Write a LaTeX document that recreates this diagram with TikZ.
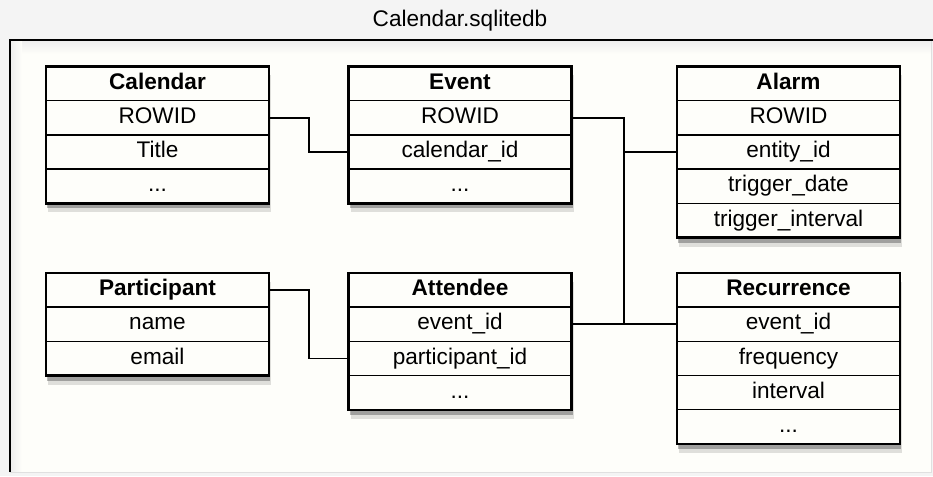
\documentclass[tikz,border=0pt]{standalone}
\usepackage{fontspec}
\setmainfont{Liberation Sans}
\usetikzlibrary{positioning,fit,backgrounds,shadows,calc}
\definecolor{paper}{HTML}{FEFEFA}
\definecolor{outside}{HTML}{F4F4F4}

\begin{document}
\begin{tikzpicture}[
  x=1pt, y=-1pt,
  fieldbox/.style={draw, line width=1.4pt, minimum width=223pt, minimum height=34.2pt,
    inner sep=0pt, outer sep=0pt, text height=16pt, text depth=4.5pt,
    font=\fontsize{22.6}{26}\selectfont},
  headbox/.style={fieldbox, font=\fontsize{22.6}{26}\selectfont\bfseries},
  tablebox/.style={draw, fill=paper, line width=2.4pt, inner sep=0pt, outer sep=0pt,
    drop shadow={shadow xshift=2pt, shadow yshift=-9pt, opacity=.12, fill=black},
    drop shadow={shadow xshift=1pt, shadow yshift=-5pt, opacity=.28, fill=black}},
  link/.style={line width=1.8pt}
]
\useasboundingbox (0,0) rectangle (933,476);

% frame of the database file
\begin{scope}[on background layer]
  \fill[outside] (0,0) rectangle (933,476);
  \fill[paper] (10,40) rectangle (931,472);
  \shade[top color=black!7, bottom color=paper] (10,40) rectangle (931,54);
  \shade[left color=black!7, right color=paper] (10,40) rectangle (22,472);
  \draw[black!12, line width=1pt] (10,472) -- (931,472) -- (931,40);
  \draw[line width=2pt] (10,472) -- (10,40) -- (933,40);
\end{scope}
\node[font=\fontsize{22.6}{26}\selectfont] (title) at (460,21) {Calendar.sqlitedb};

% Calendar
\node[headbox] (cal) at (157.5,83.6) {Calendar};
\node[fieldbox, below=0pt of cal] (cal-rowid) {ROWID};
\node[fieldbox, below=0pt of cal-rowid] (cal-title) {Title};
\node[fieldbox, below=0pt of cal-title] (cal-more) {...};

% Event
\node[headbox] (event) at (460,83.6) {Event};
\node[fieldbox, below=0pt of event] (ev-rowid) {ROWID};
\node[fieldbox, below=0pt of ev-rowid] (ev-calid) {calendar\_id};
\node[fieldbox, below=0pt of ev-calid] (ev-more) {...};

% Alarm
\node[headbox] (alarm) at (788.5,83.6) {Alarm};
\node[fieldbox, below=0pt of alarm] (al-rowid) {ROWID};
\node[fieldbox, below=0pt of al-rowid] (al-entity) {entity\_id};
\node[fieldbox, below=0pt of al-entity] (al-date) {trigger\_date};
\node[fieldbox, below=0pt of al-date] (al-interval) {trigger\_interval};

% Participant
\node[headbox] (part) at (157.5,290) {Participant};
\node[fieldbox, below=0pt of part] (pa-name) {name};
\node[fieldbox, below=0pt of pa-name] (pa-email) {email};

% Attendee
\node[headbox] (attendee) at (460,290) {Attendee};
\node[fieldbox, below=0pt of attendee] (at-event) {event\_id};
\node[fieldbox, below=0pt of at-event] (at-part) {participant\_id};
\node[fieldbox, below=0pt of at-part] (at-more) {...};

% Recurrence
\node[headbox] (recur) at (788.5,290) {Recurrence};
\node[fieldbox, below=0pt of recur] (re-event) {event\_id};
\node[fieldbox, below=0pt of re-event] (re-freq) {frequency};
\node[fieldbox, below=0pt of re-freq] (re-interval) {interval};
\node[fieldbox, below=0pt of re-interval] (re-more) {...};

% table outlines and shadows
\begin{scope}[on background layer]
  \node[tablebox, fit=(cal)(cal-more)] {};
  \node[tablebox, fit=(event)(ev-more)] {};
  \node[tablebox, fit=(alarm)(al-interval)] {};
  \node[tablebox, fit=(part)(pa-email)] {};
  \node[tablebox, fit=(attendee)(at-more)] {};
  \node[tablebox, fit=(recur)(re-more)] {};
\end{scope}

% relations
\coordinate (trunk) at ($(at-event.east)!.5!(re-event.west)$);
\draw[link] (cal-rowid.east) -| ($(cal-rowid.east)!.5!(ev-calid.west)$) |- (ev-calid.west);
\draw[link] (part.east) -| ($(part.east)!.5!(at-part.west)$) |- (at-part.west);
\draw[link] (ev-rowid.east) -| (trunk);
\draw[link] (al-entity.west) -- (al-entity.west -| trunk);
\draw[link] (at-event.east) -- (re-event.west);
\end{tikzpicture}
\end{document}
